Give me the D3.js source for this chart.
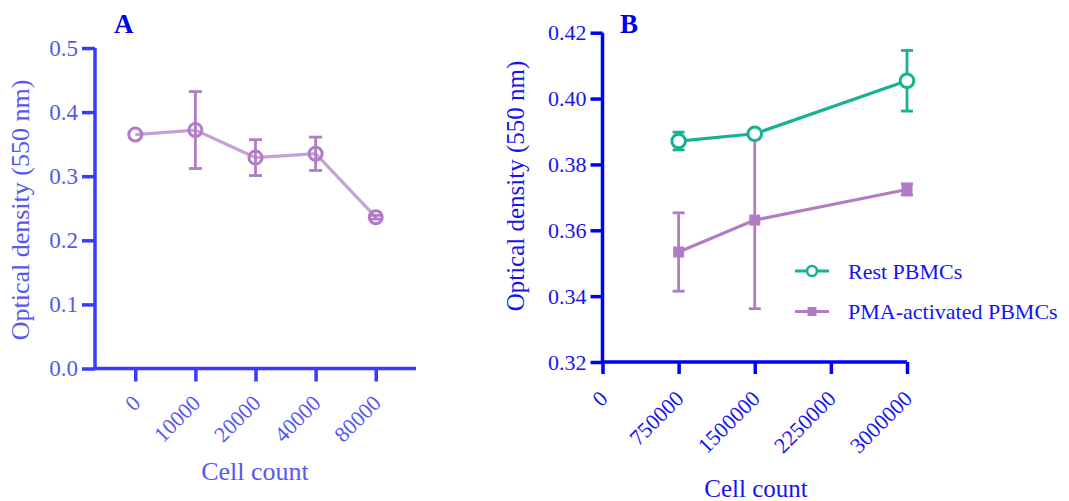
<!DOCTYPE html>
<html>
<head>
<meta charset="utf-8">
<script src="https://cdn.jsdelivr.net/npm/d3@7"></script>
<style>
  body { margin: 0; background: #fff; }
  svg, svg text { font-family: "Liberation Serif", "Times New Roman", serif; }
</style>
</head>
<body>
<svg width="1069" height="501"></svg>
<script>
// panel A
const cellsA = ["0", "10000", "20000", "40000", "80000"];
const meanA = [0.365, 0.372, 0.329, 0.335, 0.236];
const errA = [0.0, 0.060, 0.028, 0.026, 0.003];
const yTicksA = [0.0, 0.1, 0.2, 0.3, 0.4, 0.5];

// panel B
const cellsB = [750000, 1500000, 3000000];
const restMean = [0.3871, 0.3893, 0.4054];
const restErr = [0.0027, 0.0005, 0.0092];
const pmaMean = [0.3534, 0.3631, 0.3724];
const pmaErr = [0.0119, 0.0269, 0.0017];
const xTicksB = [0, 750000, 1500000, 2250000, 3000000];
const yTicksB = [0.32, 0.34, 0.36, 0.38, 0.40, 0.42];
const legendNames = ["Rest PBMCs", "PMA-activated PBMCs"];

let svg = d3.select("svg");

const purple = "#b07cc6";
const purpleLine = "#c4a2d6";
const teal = "#16b291";

function styleAxis(g, color, textColor, size) {
    g.attr("font-family", "'Liberation Serif', serif").attr("font-size", size);
    g.select(".domain").attr("stroke", color).attr("stroke-width", 3.5);
    g.selectAll(".tick line").attr("stroke", color).attr("stroke-width", 3.5);
    g.selectAll(".tick text").attr("fill", textColor)
        .attr("font-size", size)
        .attr("font-family", "'Liberation Serif', serif");
}

function errorBars(g, data, x, y, color, cap) {
    let eb = g.append("g").attr("stroke", color).attr("stroke-width", 2.8);
    data.forEach(function (d) {
        if (!d.e) return;
        let cx = x(d.x);
        eb.append("line").attr("x1", cx).attr("x2", cx)
            .attr("y1", y(d.m - d.e)).attr("y2", y(d.m + d.e));
        [d.m - d.e, d.m + d.e].forEach(function (v) {
            eb.append("line").attr("x1", cx - cap).attr("x2", cx + cap)
                .attr("y1", y(v)).attr("y2", y(v));
        });
    });
}

// ---------- A ----------
(function () {
    let axisCol = "#3a3aff";
    let textCol = "#5656f0";
    let x = d3.scalePoint().domain(cellsA).range([95, 416]).padding(0.67);
    let y = d3.scaleLinear().domain([0, 0.5]).range([368.5, 48]);
    let g = svg.append("g");

    let ya = g.append("g").attr("transform", "translate(95,0)")
        .call(d3.axisLeft(y).tickValues(yTicksA).tickFormat(d3.format(".1f")).tickSize(13).tickPadding(4));
    ya.select(".domain").attr("d", "M0," + y(0.5) + "V" + y(0));
    styleAxis(ya, axisCol, textCol, 23);

    let xa = g.append("g").attr("transform", "translate(0," + y(0) + ")")
        .call(d3.axisBottom(x).tickSize(13).tickSizeOuter(0));
    xa.select(".domain").attr("d", "M95,0H416");
    styleAxis(xa, axisCol, textCol, 22);
    xa.selectAll(".tick text").attr("y", 0).attr("dy", 0)
        .attr("text-anchor", "end")
        .attr("transform", "translate(6,36) rotate(-45)");

    let data = cellsA.map(function (c, i) { return { x: c, m: meanA[i], e: errA[i] }; });

    g.append("path").datum(data)
        .attr("fill", "none").attr("stroke", purpleLine).attr("stroke-width", 3.2)
        .attr("d", d3.line().x(function (d) { return x(d.x); }).y(function (d) { return y(d.m); }));

    errorBars(g, data, x, y, purple, 6.5);

    g.selectAll("circle.a").data(data).enter().append("circle")
        .attr("cx", function (d) { return x(d.x); })
        .attr("cy", function (d) { return y(d.m); })
        .attr("r", 6.5).attr("fill", "none")
        .attr("stroke", purple).attr("stroke-width", 3);

    g.append("text").attr("x", 114).attr("y", 33)
        .attr("fill", "#0000ee").style("font-size", "27px").style("font-weight", "bold").text("A");
    g.append("text").attr("transform", "translate(29,210) rotate(-90)")
        .attr("text-anchor", "middle").attr("fill", textCol).style("font-size", "26px")
        .text("Optical density (550 nm)");
    g.append("text").attr("x", 255).attr("y", 480)
        .attr("text-anchor", "middle").attr("fill", textCol).style("font-size", "26px")
        .text("Cell count");
})();

// ---------- B ----------
(function () {
    let axisCol = "#0000ff";
    let textCol = "#1414ee";
    let x = d3.scaleLinear().domain([0, 3000000]).range([602.5, 907]);
    let y = d3.scaleLinear().domain([0.32, 0.42]).range([362, 32.7]);
    let g = svg.append("g");

    let ya = g.append("g").attr("transform", "translate(602.5,0)")
        .call(d3.axisLeft(y).tickValues(yTicksB).tickFormat(d3.format(".2f")).tickSize(12).tickPadding(4));
    ya.select(".domain").attr("d", "M0," + y(0.42) + "V" + y(0.32));
    styleAxis(ya, axisCol, textCol, 22);

    let xa = g.append("g").attr("transform", "translate(0," + y(0.32) + ")")
        .call(d3.axisBottom(x).tickValues(xTicksB).tickFormat(d3.format("d")).tickSize(12));
    xa.select(".domain").attr("d", "M602.5,0H907");
    styleAxis(xa, axisCol, textCol, 22);
    xa.selectAll(".tick text").attr("y", 0).attr("dy", 0)
        .attr("text-anchor", "end")
        .attr("transform", "translate(6,38) rotate(-45)");

    let rest = cellsB.map(function (c, i) { return { x: c, m: restMean[i], e: restErr[i] }; });
    let pma = cellsB.map(function (c, i) { return { x: c, m: pmaMean[i], e: pmaErr[i] }; });
    let line = d3.line().x(function (d) { return x(d.x); }).y(function (d) { return y(d.m); });

    g.append("path").datum(pma).attr("fill", "none")
        .attr("stroke", purple).attr("stroke-width", 3.2).attr("d", line);
    errorBars(g, pma, x, y, purple, 6);

    g.append("path").datum(rest).attr("fill", "none")
        .attr("stroke", teal).attr("stroke-width", 3.2).attr("d", line);
    errorBars(g, rest, x, y, teal, 6);

    g.selectAll("circle.r").data(rest).enter().append("circle")
        .attr("cx", function (d) { return x(d.x); })
        .attr("cy", function (d) { return y(d.m); })
        .attr("r", 6.8).attr("fill", "#fff")
        .attr("stroke", teal).attr("stroke-width", 3);

    g.selectAll("rect.p").data(pma).enter().append("rect")
        .attr("x", function (d) { return x(d.x) - 5.5; })
        .attr("y", function (d) { return y(d.m) - 5.5; })
        .attr("width", 11).attr("height", 11).attr("fill", purple);

    // legend
    let lg = g.append("g");
    [teal, purple].forEach(function (c, i) {
        let ly = 271 + i * 40.5;
        lg.append("line").attr("x1", 795).attr("x2", 829).attr("y1", ly).attr("y2", ly)
            .attr("stroke", c).attr("stroke-width", 3.2);
        if (i === 0) {
            lg.append("circle").attr("cx", 812).attr("cy", ly).attr("r", 5)
                .attr("fill", "#fff").attr("stroke", c).attr("stroke-width", 2.6);
        } else {
            lg.append("rect").attr("x", 807.5).attr("y", ly - 4.5).attr("width", 9).attr("height", 9).attr("fill", c);
        }
        lg.append("text").attr("x", 848).attr("y", ly + 7.5)
            .attr("fill", textCol).style("font-size", "22px").text(legendNames[i]);
    });

    g.append("text").attr("x", 620).attr("y", 33)
        .attr("fill", "#0000ee").style("font-size", "27px").style("font-weight", "bold").text("B");
    g.append("text").attr("transform", "translate(524,186) rotate(-90)")
        .attr("text-anchor", "middle").attr("fill", textCol).style("font-size", "25px")
        .text("Optical density (550 nm)");
    g.append("text").attr("x", 756).attr("y", 497)
        .attr("text-anchor", "middle").attr("fill", textCol).style("font-size", "25px")
        .text("Cell count");
})();
</script>
</body>
</html>
